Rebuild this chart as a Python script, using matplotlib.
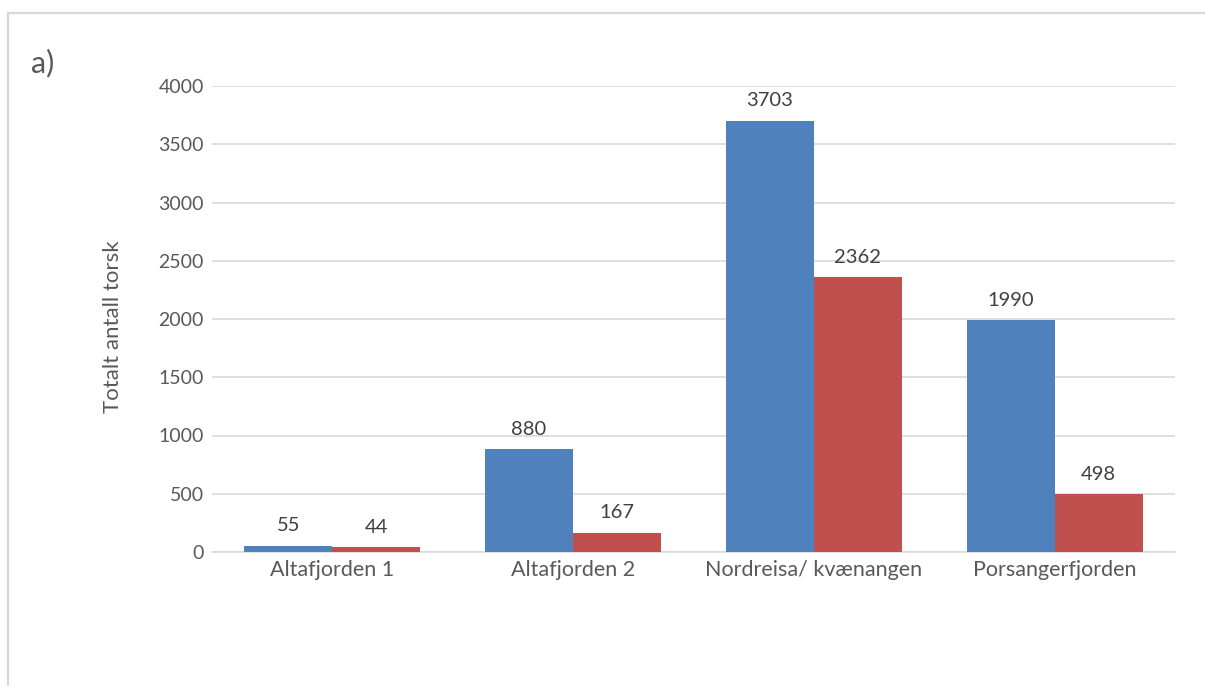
import numpy as np
import matplotlib.pyplot as plt
import matplotlib.patches as patches

plt.rcParams['font.family'] = ['Lato', 'DejaVu Sans']

categories = ['Altafjorden 1', 'Altafjorden 2', 'Nordreisa/ kvænangen', 'Porsangerfjorden']
series_blue = [55, 880, 3703, 1990]
series_red = [44, 167, 2362, 498]

blue = '#4F81BD'
red = '#C0504D'
text_col = '#595959'
grid_col = '#D9D9D9'

fig = plt.figure(figsize=(12.05, 6.86), dpi=100)
ax = fig.add_axes([212 / 1205, 1 - 552 / 686, (1175 - 212) / 1205, (552 - 86) / 686])

# outer chart frame (runs off right and bottom edges)
fig.patches.append(patches.Rectangle((8 / 1205, -0.1), 1.2, 1 - 13 / 686 + 0.1,
                                     transform=fig.transFigure, fill=False,
                                     edgecolor=grid_col, linewidth=1.6))

x = np.arange(len(categories))
w = 0.366
b1 = ax.bar(x - w / 2, series_blue, w, color=blue, zorder=3)
b2 = ax.bar(x + w / 2, series_red, w, color=red, zorder=3)

for bars, vals in [(b1, series_blue), (b2, series_red)]:
    for rect, v in zip(bars, vals):
        ax.annotate(str(v), (rect.get_x() + rect.get_width() / 2, rect.get_height()),
                    xytext=(0, 8), textcoords='offset points', ha='center', va='bottom',
                    fontsize=14.5, color='#404040')

ax.set_xlim(-0.5, len(categories) - 0.5)
ax.set_ylim(0, 4000)
ax.set_yticks(np.arange(0, 4001, 500))
ax.set_xticks(x)
ax.set_xticklabels(categories, fontsize=15.5, color=text_col)
ax.tick_params(axis='y', labelsize=14, labelcolor=text_col, length=0, pad=6)
ax.tick_params(axis='x', length=0, pad=6)
ax.grid(axis='y', color=grid_col, linewidth=1.2, zorder=0)
for s in ['top', 'right', 'left']:
    ax.spines[s].set_visible(False)
ax.spines['bottom'].set_color(grid_col)
ax.spines['bottom'].set_linewidth(1.2)

fig.text(113 / 1205, 1 - 327 / 686, 'Totalt antall torsk', rotation=90,
         fontsize=16, color=text_col, ha='center', va='center')

fig.text(31 / 1205, 1 - 63 / 686, 'a)', fontsize=22, color=text_col, va='center', ha='left')

fig.savefig('out.png', dpi=100)
